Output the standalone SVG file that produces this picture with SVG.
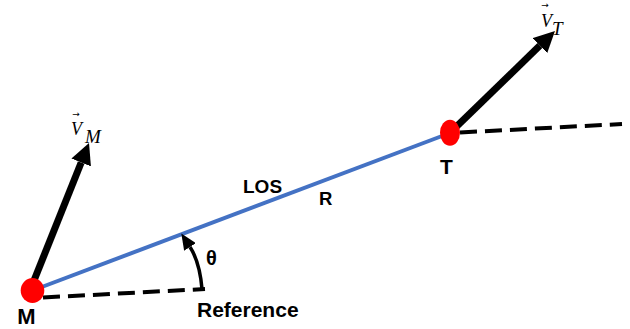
<svg xmlns="http://www.w3.org/2000/svg" width="630" height="329" viewBox="0 0 630 329">
<style>
.lbl{font-family:"Liberation Sans",Arial,sans-serif;font-weight:bold;fill:#000}
.math{font-family:"Liberation Serif","Times New Roman",serif;font-style:italic;fill:#000}
.vec{font-family:"DejaVu Sans",sans-serif;fill:#000}
.dash{stroke:#000;stroke-width:4;stroke-dasharray:17 8;fill:none}
.vel{stroke:#000;stroke-width:7;fill:none;marker-end:url(#bigArrow)}
.pt{fill:#FF0000}
</style>
<defs>
<marker id="bigArrow" viewBox="0 0 10 10" refX="0" refY="5" markerWidth="3" markerHeight="3" orient="auto" markerUnits="strokeWidth">
<path d="M0,0 L10,5 L0,10 z" fill="#000"/>
</marker>
<marker id="smallArrow" viewBox="0 0 16 14" refX="0" refY="7" markerWidth="16" markerHeight="14" orient="auto" markerUnits="userSpaceOnUse">
<path d="M0,0 L16,7 L0,14 z" fill="#000"/>
</marker>
</defs>
<g id="connectors">
<line id="ref-M" class="dash" x1="43" y1="297.5" x2="205" y2="289"/>
<line id="ref-T" class="dash" x1="460" y1="132.5" x2="622" y2="124"/>
<line id="los" x1="32.5" y1="290.5" x2="450" y2="133" stroke="#4472C4" stroke-width="4"/>
<line id="vel-M" class="vel" x1="33" y1="283" x2="81.2" y2="162.5"/>
<line id="vel-T" class="vel" x1="455" y1="128" x2="539.9" y2="45.6"/>
<path id="theta-arc" d="M202,289 Q199.7,262 190,247" stroke="#000" stroke-width="3.5" fill="none" marker-end="url(#smallArrow)"/>
</g>
<g id="node-M">
<ellipse class="pt" cx="32.5" cy="290.5" rx="11.8" ry="12.5"/>
<text class="lbl" x="26.5" y="324" font-size="22" text-anchor="middle">M</text>
</g>
<g id="node-T">
<ellipse class="pt" cx="450" cy="132.7" rx="10" ry="13"/>
<text class="lbl" x="446.5" y="174" font-size="21" text-anchor="middle">T</text>
</g>
<g id="labels">
<text class="lbl" x="243" y="193" font-size="19">LOS</text>
<text class="lbl" x="319" y="205" font-size="18.5">R</text>
<text class="lbl" x="206" y="265" font-size="20">θ</text>
<text class="lbl" x="197" y="317" font-size="21">Reference</text>
<g id="label-VM">
<text class="vec" x="76" y="117" font-size="9" text-anchor="middle">→</text>
<text class="math" x="71" y="135" font-size="18">V</text>
<text class="math" x="85" y="143" font-size="19">M</text>
</g>
<g id="label-VT">
<text class="vec" x="545" y="8" font-size="9" text-anchor="middle">→</text>
<text class="math" x="541" y="27" font-size="18">V</text>
<text class="math" x="552" y="35" font-size="19">T</text>
</g>
</g>
</svg>
